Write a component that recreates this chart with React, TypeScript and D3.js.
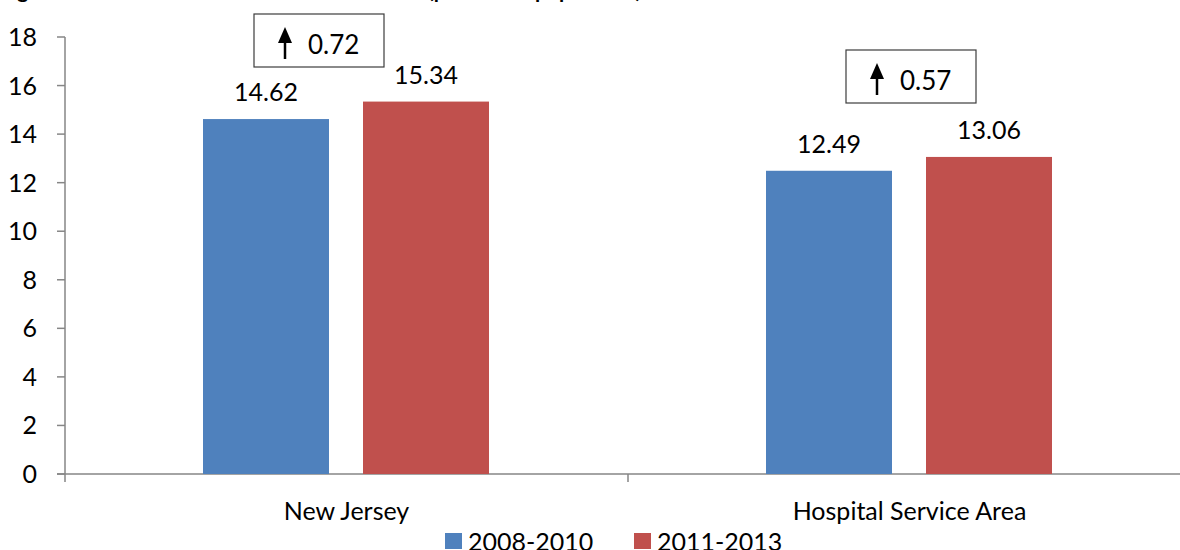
import * as d3 from "d3";

const categories = ["New Jersey", "Hospital Service Area"];
const seriesNames = ["2008-2010", "2011-2013"];
const values2008 = [14.62, 12.49];
const values2011 = [15.34, 13.06];
const changes = [0.72, 0.57];
const yTicks = [0, 2, 4, 6, 8, 10, 12, 14, 16, 18];
const colors = ["#4F81BD", "#C0504D"];

const W = 1180;
const H = 550;
const font = "Lato, 'Open Sans', sans-serif";

const App = () => {
  const x0 = d3.scaleBand().domain(categories).range([65, 1191]);
  // bars sit inside each category band, not centred on the whole band
  const x1 = d3.scaleBand().domain(seriesNames).range([138, 424]).paddingInner(0.2125);
  const y = d3.scaleLinear().domain([0, 18]).range([474, 37]);
  const series = [values2008, values2011];
  const boxTops = [14, 50];
  const boxOffsets = [51, 80];

  return (
    <div style={{ position: "absolute", left: 0, top: 0 }}>
      <svg width={W} height={H} style={{ display: "block", background: "#fff" }}>
        {/* title is cropped off the top in the source, only descenders show */}
        <text y={-2} fontFamily={font} fontWeight="bold" fontSize={21} fill="#000">
          <tspan x={0}>Figure 11: Heart Disease Death Rate</tspan>
          <tspan x={428}>(per 100k</tspan>
          <tspan x={535}>population)</tspan>
        </text>
        {/* y axis */}
        <line x1={65} x2={65} y1={y(18)} y2={y(0)} stroke="#868686" strokeWidth={1.5} />
        {yTicks.map((t) => (
          <g key={t}>
            <line x1={57} x2={65} y1={y(t)} y2={y(t)} stroke="#868686" strokeWidth={1.5} />
            <text x={37} y={y(t)} dy="0.36em" textAnchor="end" fontFamily={font} fontSize={25} fill="#000">
              {t}
            </text>
          </g>
        ))}
        {/* x axis */}
        <line x1={57} x2={1191} y1={y(0)} y2={y(0)} stroke="#868686" strokeWidth={1.5} />
        {[0, 1, 2].map((i) => {
          const xx = 65 + i * x0.bandwidth();
          return <line key={i} x1={xx} x2={xx} y1={y(0)} y2={y(0) + 8} stroke="#868686" strokeWidth={1.5} />;
        })}
        {categories.map((c, ci) => (
          <g key={c}>
            {seriesNames.map((s, si) => {
              const v = series[si][ci];
              const bx = x0(c)! + x1(s)!;
              return (
                <g key={s}>
                  <rect x={bx} y={y(v)} width={x1.bandwidth()} height={y(0) - y(v)} fill={colors[si]} />
                  <text x={bx + x1.bandwidth() / 2} y={y(v) - 18} textAnchor="middle" fontFamily={font} fontSize={25} fill="#000">
                    {v.toFixed(2)}
                  </text>
                </g>
              );
            })}
            <text x={x0(c)! + x0.bandwidth() / 2} y={520} textAnchor="middle" fontFamily={font} fontSize={25} fill="#000">
              {c}
            </text>
            {/* change annotation box */}
            {(() => {
              const bx = x0(c)! + x1(seriesNames[0])! + boxOffsets[ci];
              const top = boxTops[ci];
              return (
                <g>
                  <rect x={bx} y={top} width={130} height={53} fill="#fff" stroke="#3c3c3c" strokeWidth={1.2} />
                  <line x1={bx + 31} x2={bx + 31} y1={top + 24} y2={top + 45} stroke="#000" strokeWidth={2.5} />
                  <path d={`M${bx + 24},${top + 29} L${bx + 31},${top + 13} L${bx + 38},${top + 29} Z`} fill="#000" />
                  <text x={bx + 54} y={top + 40} fontFamily={font} fontSize={26} fill="#000">
                    {changes[ci].toFixed(2)}
                  </text>
                </g>
              );
            })()}
          </g>
        ))}
        {/* legend */}
        {seriesNames.map((s, i) => {
          const lx = 445 + i * 189;
          return (
            <g key={s}>
              <rect x={lx} y={533} width={17} height={16} fill={colors[i]} />
              <text x={lx + 23} y={551} fontFamily={font} fontSize={25} fill="#000">
                {s}
              </text>
            </g>
          );
        })}
      </svg>
    </div>
  );
};

export default App;
